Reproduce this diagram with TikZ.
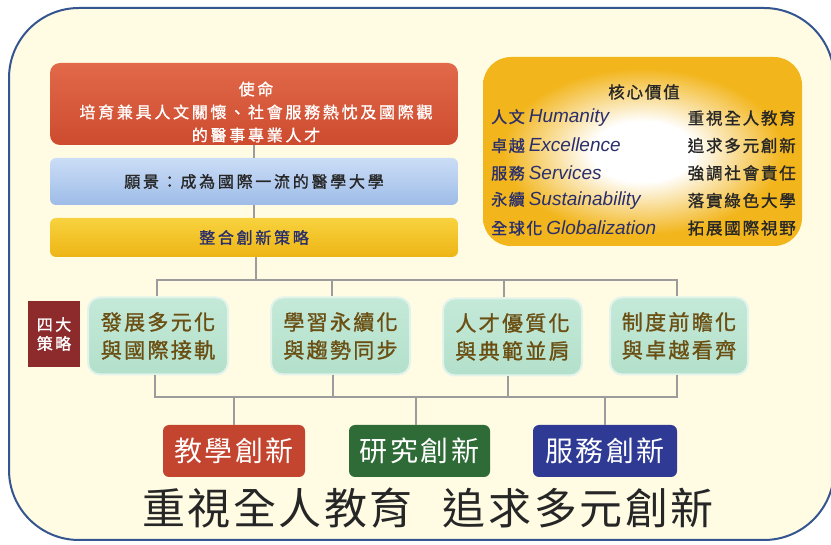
\documentclass[tikz,border=0pt]{standalone}
\usepackage{fontspec}
\setmainfont{Noto Sans CJK TC}
\newfontfamily\zhfont{Noto Sans CJK TC}
\newfontfamily\zhbold{Noto Sans CJK TC}[FakeBold=1.2]
\newfontfamily\enfont{Liberation Sans}
\definecolor{cream}{HTML}{FFFCE3}
\definecolor{framec}{HTML}{34558F}
\definecolor{misTop}{HTML}{E2694A}
\definecolor{misBot}{HTML}{CD4B2F}
\definecolor{visTop}{HTML}{CBDDF6}
\definecolor{visBot}{HTML}{9EBCE8}
\definecolor{strTop}{HTML}{F8D23F}
\definecolor{strBot}{HTML}{EDB514}
\definecolor{cvyel}{HTML}{F2B51C}
\definecolor{mint}{HTML}{B3E0CB}
\definecolor{mintTop}{HTML}{C4E9D8}
\definecolor{labred}{HTML}{8C2A2C}
\definecolor{brown}{HTML}{6A4E12}
\definecolor{navy}{HTML}{2A2F6C}
\definecolor{teachc}{HTML}{C4452F}
\definecolor{resc}{HTML}{2F6B36}
\definecolor{servc}{HTML}{2F3A94}
\definecolor{linegray}{HTML}{9C9C9C}
\definecolor{darktxt}{HTML}{262626}
\pgfdeclareradialshading{cvshade}{\pgfpoint{0bp}{0bp}}{color(0bp)=(white); color(8bp)=(white); color(22bp)=(cvyel); color(50bp)=(cvyel)}
\begin{document}
\begin{tikzpicture}[x=1pt,y=-1pt,
  conn/.style={draw=linegray, line width=2pt},
  topbox/.style={rectangle, inner sep=0pt, minimum width=408pt},
  stratbox/.style={rectangle, rounded corners=12pt, draw=white!60!mint, line width=2pt,
     top color=mintTop, bottom color=mint, minimum height=77pt, inner sep=0pt, align=center,
     text=brown, font=\zhbold\fontsize{21}{28}\selectfont\addfontfeatures{LetterSpace=11}},
  innobox/.style={rectangle, rounded corners=6pt, minimum height=52pt, inner sep=0pt, text=white,
     font=\zhfont\fontsize{28}{30}\selectfont\addfontfeatures{LetterSpace=9}},
  cvzh/.style={font=\zhbold\fontsize{16.5}{18}\selectfont\addfontfeatures{LetterSpace=11}, text=darktxt, inner sep=0pt},
  cvleft/.style={cvzh, text=navy, anchor=west, font=\zhbold\fontsize{16}{18}\selectfont\addfontfeatures{LetterSpace=10}},
  topfont/.style={font=\zhbold\fontsize{16}{23}\selectfont\addfontfeatures{LetterSpace=17}},
]
\useasboundingbox (0,0) rectangle (831,545);
\fill[white] (0,0) rectangle (831,545);
\draw[draw=framec, line width=2pt, fill=cream, rounded corners=70pt] (9,8) rectangle (834,540);

% top-left column
\node[topbox, rounded corners=10pt, minimum height=82pt, top color=misTop, bottom color=misBot] (mission) at (254,104) {};
\node[topfont, align=center, text=white, inner sep=0pt] (missiontxt) at (256,112)
  {使命\\培育兼具人文關懷、社會服務熱忱及國際觀\\的醫事專業人才};
\node[topbox, topfont, rounded corners=6pt, minimum height=47pt, top color=visTop, bottom color=visBot,
  text=darktxt] (vision) at (254,181.5) {願景：成為國際一流的醫學大學};
\node[topbox, topfont, rounded corners=6pt, minimum height=39pt, top color=strTop, bottom color=strBot,
  text=navy] (strat) at (254,237.5) {整合創新策略};
\draw[conn] (mission.south) -- (vision.north);
\draw[conn] (vision.south) -- (strat.north);

% core values
\node[rectangle, rounded corners=28pt, minimum width=319pt, minimum height=189pt, shading=cvshade] (core) at (642.5,151.5) {};
\node[cvzh] (cvtitle) at (644,92) {核心價值};
\node[cvleft] (cv1) at (491,118) {人文\hspace{4pt}{\enfont\itshape\fontsize{19}{20}\selectfont Humanity}};
\node[cvleft] (cv2) at (491,145.5) {卓越\hspace{4pt}{\enfont\itshape\fontsize{19}{20}\selectfont Excellence}};
\node[cvleft] (cv3) at (491,173) {服務\hspace{4pt}{\enfont\itshape\fontsize{19}{20}\selectfont Services}};
\node[cvleft] (cv4) at (491,200.5) {永續\hspace{4pt}{\enfont\itshape\fontsize{19}{20}\selectfont Sustainability}};
\node[cvleft] (cv5) at (491,228) {全球化\hspace{4pt}{\enfont\itshape\fontsize{19}{20}\selectfont Globalization}};
\node[cvzh, anchor=east] (cr1) at (796,118) {重視全人教育};
\node[cvzh, anchor=east] (cr2) at (796,145.5) {追求多元創新};
\node[cvzh, anchor=east] (cr3) at (796,173) {強調社會責任};
\node[cvzh, anchor=east] (cr4) at (796,200.5) {落實綠色大學};
\node[cvzh, anchor=east] (cr5) at (796,228) {拓展國際視野};

% four strategies
\node[rectangle, fill=labred, minimum width=52pt, minimum height=66pt, inner sep=0pt, align=center, text=white,
  font=\zhbold\fontsize{16}{19}\selectfont\addfontfeatures{LetterSpace=15}] (label) at (54,334) {四大\\策略};
\node[stratbox, minimum width=140pt] (s1) at (158,336) {發展多元化\\與國際接軌};
\node[stratbox, minimum width=139pt] (s2) at (340.5,336) {學習永續化\\與趨勢同步};
\node[stratbox, minimum width=139pt] (s3) at (512.5,337) {人才優質化\\與典範並肩};
\node[stratbox, minimum width=138pt] (s4) at (679,336) {制度前瞻化\\與卓越看齊};

\coordinate (busT) at (0,280);
\coordinate (busB) at (0,397);
\draw[conn] ([xshift=2pt]strat.south) -- ([xshift=2pt]strat.south |- busT);
\draw[conn] ([xshift=-1pt]s1.north) -- ([xshift=-1pt]s1.north |- busT) -| ([xshift=-2pt]s4.north);
\draw[conn] ([xshift=-9pt]s2.north) -- ([xshift=-9pt]s2.north |- busT);
\draw[conn] ([xshift=-9pt]s3.north) -- ([xshift=-9pt]s3.north |- busT);
\draw[conn] ([xshift=-3pt]s1.south) -- ([xshift=-3pt]s1.south |- busB) -| ([xshift=-2pt]s4.south);
\draw[conn] ([xshift=-8pt]s2.south) -- ([xshift=-8pt]s2.south |- busB);
\draw[conn] ([xshift=-5pt]s3.south) -- ([xshift=-5pt]s3.south |- busB);

% innovation boxes
\node[innobox, fill=teachc, minimum width=142pt] (t1) at (234,451) {教學創新};
\node[innobox, fill=resc, minimum width=141pt] (t2) at (419.5,451) {研究創新};
\node[innobox, fill=servc, minimum width=144pt] (t3) at (605,451) {服務創新};
\draw[conn] (t1.north |- busB) -- (t1.north);
\draw[conn] ([xshift=-4pt]t2.north |- busB) -- ([xshift=-4pt]t2.north);
\draw[conn] (t3.north |- busB) -- (t3.north);

% slogan
\node[inner sep=0pt, text=darktxt, font=\zhfont\fontsize{43}{46}\selectfont\addfontfeatures{LetterSpace=6}] (slogan) at (428,508)
  {重視全人教育\hspace{30pt}追求多元創新};
\end{tikzpicture}
\end{document}
